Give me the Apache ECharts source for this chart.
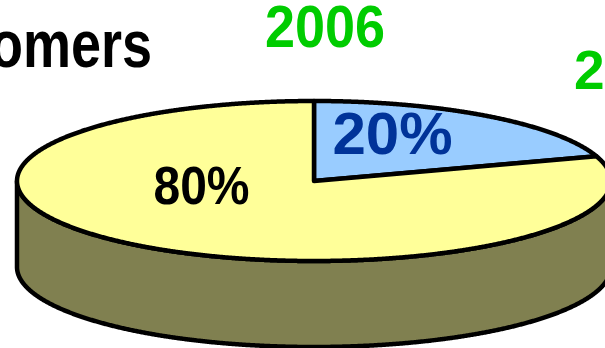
<!DOCTYPE html>
<html><head><meta charset="utf-8">
<script src="https://cdn.jsdelivr.net/npm/echarts@6/dist/echarts.min.js"></script>
<style>html,body{margin:0;padding:0;background:#fff;overflow:hidden}#c{width:605px;height:348px}</style>
</head><body><div id="c"></div>
<script>
// ---- data ----
const categories = ['Segment A', 'Segment B'];
const values = [20, 80];
const valueLabels = ['20%', '80%'];
const titleText = 'Customers';
const yearLabels = ['2006', '2007'];

// ---- styling / geometry ----
const CX = 314, CY = 181, RX = 297, RY = 80, DEPTH = 86;
const topColors = ['#99CCFF', '#FFFF99'];
const sideColors = ['#5C7A99', '#808050'];
const FONT = '"Liberation Sans", Arial, Helvetica, sans-serif';
const labelStyle = [
  { x: 392.5, y: 137.5, size: 60, color: '#003399', scaleY: 1 },
  { x: 201.5, y: 189, size: 48, color: '#000000', scaleY: 1.1 }
];

const total = values.reduce((a, b) => a + b, 0);
let acc = 0;
const seriesData = values.map((v, i) => {
  const d = { name: categories[i], value: [v, acc] };
  acc += v;
  return d;
});

function pt(t, dy) { return [CX + RX * Math.cos(t), CY - RY * Math.sin(t) + (dy || 0)]; }

function renderItem(params, api) {
  const i = params.dataIndex;
  const v = api.value(0), cum = api.value(1);
  const start = Math.PI / 2 - 2 * Math.PI * cum / total;
  const end = start - 2 * Math.PI * v / total;
  const children = [];
  const N = Math.max(8, Math.ceil((start - end) / 0.004));
  const thetas = [];
  for (let k = 0; k <= N; k++) thetas.push(start + (end - start) * k / N);

  // side (front-facing part only)
  let run = [];
  const runs = [];
  thetas.forEach(t => {
    if (Math.sin(t) <= 1e-9) run.push(t);
    else if (run.length) { runs.push(run); run = []; }
  });
  if (run.length) runs.push(run);
  runs.forEach(r => {
    const pts = r.map(t => pt(t, 0));
    for (let k = r.length - 1; k >= 0; k--) pts.push(pt(r[k], DEPTH));
    children.push({
      type: 'polygon', z2: 1,
      shape: { points: pts },
      style: { fill: sideColors[i], stroke: '#000', lineWidth: 4.5, lineJoin: 'round' }
    });
  });

  // top face
  const topPts = [[CX, CY]].concat(thetas.map(t => pt(t, 0)));
  children.push({
    type: 'polygon', z2: 10,
    shape: { points: topPts },
    style: { fill: topColors[i], stroke: '#000', lineWidth: 4.5, lineJoin: 'round' }
  });

  const ls = labelStyle[i];
  children.push({
    type: 'text', z2: 20,
    x: ls.x, y: ls.y, scaleY: ls.scaleY,
    style: {
      text: valueLabels[i], x: 0, y: 0,
      font: 'bold ' + ls.size + 'px ' + FONT,
      fill: ls.color,
      align: 'center', verticalAlign: 'middle',
      textAlign: 'center', textVerticalAlign: 'middle'
    }
  });
  return { type: 'group', children: children };
}

const chart = echarts.init(document.getElementById('c'), null, { renderer: 'canvas' });
chart.setOption({
  backgroundColor: '#ffffff',
  animation: false,
  graphic: [
    {
      type: 'text', x: 152, y: 48, scaleY: 1.25, silent: true,
      style: { text: titleText, x: 0, y: 0, font: 'bold 54px ' + FONT, fill: '#000',
        align: 'right', verticalAlign: 'middle', textAlign: 'right', textVerticalAlign: 'middle' }
    },
    {
      type: 'text', x: 325, y: 30.5, scaleY: 1.1, silent: true,
      style: { text: yearLabels[0], x: 0, y: 0, font: 'bold 54px ' + FONT, fill: '#00CC00',
        align: 'center', verticalAlign: 'middle', textAlign: 'center', textVerticalAlign: 'middle' }
    },
    {
      type: 'text', x: 574, y: 73.5, scaleY: 1.0, silent: true,
      style: { text: yearLabels[1], x: 0, y: 0, font: 'bold 55px ' + FONT, fill: '#00CC00',
        align: 'left', verticalAlign: 'middle', textAlign: 'left', textVerticalAlign: 'middle' }
    }
  ],
  series: [{
    type: 'custom',
    coordinateSystem: 'none',
    silent: true,
    renderItem: renderItem,
    data: seriesData
  }]
});
</script>
</body></html>
